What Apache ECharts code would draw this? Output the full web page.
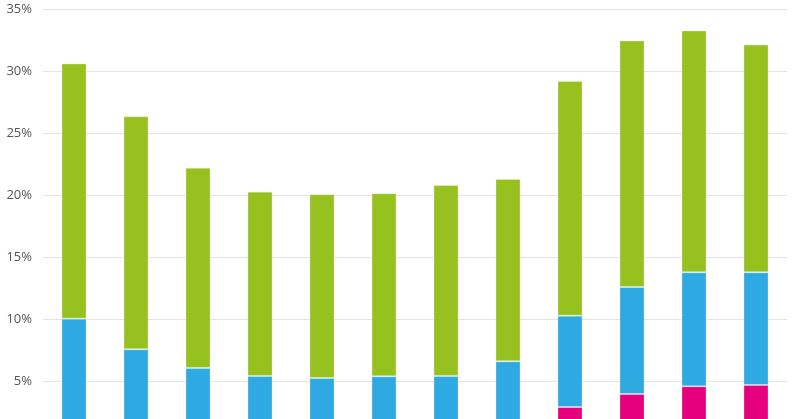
<!DOCTYPE html>
<html>
<head>
<meta charset="utf-8">
<script src="https://cdn.jsdelivr.net/npm/echarts@6/dist/echarts.min.js"></script>
<style>
html,body{margin:0;padding:0;background:#fff;overflow:hidden;width:800px;height:419px;}
#chart{width:800px;height:460px;}
</style>
</head>
<body>
<div id="chart"></div>
<script>
var categories = ['1','2','3','4','5','6','7','8','9','10','11','12'];
var pinkValues = [0, 0, 0, 0, 0, 0, 0, 0, 2.9, 3.95, 4.57, 4.68];
var blueValues = [10.03, 7.56, 6.05, 5.40, 5.24, 5.38, 5.40, 6.59, 7.37, 8.63, 9.2, 9.09];
var greenValues = [20.57, 18.79, 16.15, 14.87, 14.82, 14.76, 15.4, 14.71, 18.93, 19.87, 19.49, 18.36];
var yTicks = [0, 5, 10, 15, 20, 25, 30, 35];

var chart = echarts.init(document.getElementById('chart'), null, {renderer: 'canvas'});
function mk(name, data, color) {
  return {
    name: name, type: 'bar', stack: 'total', data: data, barWidth: 25,
    itemStyle: {color: color, borderColor: 'rgba(255,255,255,0.25)', borderWidth: 1},
    emphasis: {disabled: true}
  };
}
chart.setOption({
  animation: false,
  grid: {left: 43, width: 744, top: 9, height: 434, containLabel: false},
  xAxis: {
    type: 'category', data: categories,
    axisLine: {show: false}, axisTick: {show: false}, axisLabel: {show: false}
  },
  yAxis: {
    type: 'value', min: yTicks[0], max: yTicks[yTicks.length - 1], interval: 5,
    axisLine: {show: false}, axisTick: {show: false},
    splitLine: {lineStyle: {color: '#e3e3e3', width: 1}},
    axisLabel: {
      margin: 11, color: '#555', fontSize: 13, fontFamily: 'Open Sans',
      formatter: function (v) { return yTicks.indexOf(v) >= 0 ? v + '%' : ''; }
    }
  },
  series: [
    mk('pink', pinkValues, '#e6007e'),
    mk('blue', blueValues, '#2ea9e1'),
    mk('green', greenValues, '#97c11f')
  ]
});
</script>
</body>
</html>
